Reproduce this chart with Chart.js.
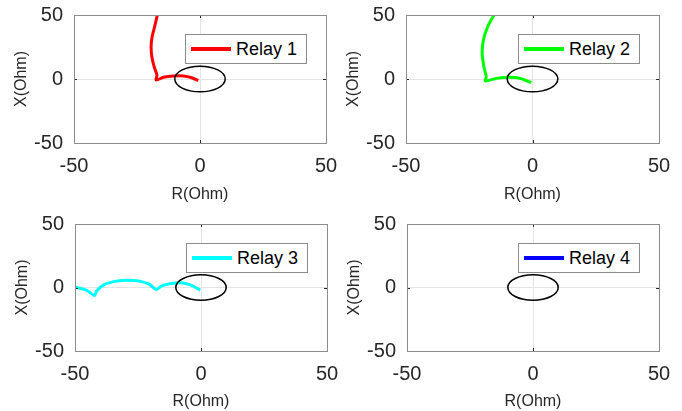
<!DOCTYPE html>
<html>
<head>
<meta charset="utf-8">
<script src="https://cdn.jsdelivr.net/npm/chart.js@4"></script>
<style>
  body { margin: 0; background: #fff; width: 682px; height: 411px; overflow: hidden; position: relative; font-family: "Liberation Sans", Arial, sans-serif; }
  canvas { position: absolute; }
  .legend { position: absolute; background: #fff; border: 1px solid #8c8c8c; box-sizing: border-box; height: 30px; width: 122px; display: flex; align-items: center; padding-left: 5px; font-size: 18px; color: #000; }
  .legend i { display: inline-block; width: 40px; height: 4px; margin-right: 5px; }
</style>
</head>
<body>
<script>
// impedance trajectories (R, X in Ohm)
const relay1R = [-16.7, -18.0, -19.0, -19.4, -19.1, -18.2, -17.1, -17.4, -14.5, -10.5, -6.6, -3.3, -0.7];
const relay1X = [52, 40.9, 33.1, 25.3, 17.4, 9.6, 3.1, -0.8, 1.3, 2.3, 2.3, 1.0, -1.3];

const relay2R = [-14.6, -17.7, -19.4, -19.9, -19.2, -18.3, -18.6, -14.3, -9.1, -4.5, -0.5];
const relay2X = [52, 40.9, 30.5, 20, 9.6, 1.8, -1.5, 0.5, 1.3, 0.3, -2.9];

const relay3R = [-50, -45.5, -42.2, -41.5, -38.2, -33.6, -29, -24.4, -20.4, -17.8, -15.8, -11.9, -7.9, -4, -0.3];
const relay3X = [0.3, -2, -6.3, -2.9, 2.4, 5, 5.8, 5, 2.4, -1.6, 1, 3.1, 3.7, 1.8, -2.1];

const relay4R = [];
const relay4X = [];

const relayNames = ["Relay 1", "Relay 2", "Relay 3", "Relay 4"];
const relayColors = ["#ff0000", "#00ff00", "#00ffff", "#0000ff"];
const relayR = [relay1R, relay2R, relay3R, relay4R];
const relayX = [relay1X, relay2X, relay3X, relay4X];

const axisTicks = [-50, 0, 50];
const zoneCenter = [0, 0];
const zoneRadius = 10;

// where each subplot sits on the page
const panels = [
  { left: 0, top: 0, w: 345, h: 204, axisW: 74, padR: 19, padT: 15, axisH: 61 },
  { left: 332, top: 0, w: 350, h: 204, axisW: 74, padR: 23, padT: 15, axisH: 61 },
  { left: 1, top: 209, w: 344, h: 202, axisW: 74, padR: 18, padT: 15, axisH: 60 },
  { left: 333, top: 209, w: 349, h: 202, axisW: 74, padR: 23, padT: 15, axisH: 60 },
];

Chart.defaults.font.family = '"Liberation Sans", Arial, sans-serif';
Chart.defaults.color = "#262626";

// zone circle + matlab style box with inward ticks
const boxPlugin = {
  id: "box",
  afterDatasetsDraw(chart) {
    const ctx = chart.ctx;
    const xs = chart.scales.x, ys = chart.scales.y;
    const cx = xs.getPixelForValue(zoneCenter[0]);
    const cy = ys.getPixelForValue(zoneCenter[1]);
    const rx = Math.abs(xs.getPixelForValue(zoneCenter[0] + zoneRadius) - cx);
    const ry = Math.abs(ys.getPixelForValue(zoneCenter[1] + zoneRadius) - cy);
    ctx.save();
    ctx.strokeStyle = "#000";
    ctx.lineWidth = 1.5;
    ctx.beginPath();
    ctx.ellipse(cx, cy, rx, ry, 0, 0, Math.PI * 2);
    ctx.stroke();

    const a = chart.chartArea;
    ctx.strokeStyle = "#262626";
    ctx.lineWidth = 1;
    ctx.beginPath();
    for (const t of axisTicks) {
      const px = Math.round(xs.getPixelForValue(t)) + 0.5;
      ctx.moveTo(px, a.bottom); ctx.lineTo(px, a.bottom - 3);
      ctx.moveTo(px, a.top); ctx.lineTo(px, a.top + 3);
      const py = Math.round(ys.getPixelForValue(t)) + 0.5;
      ctx.moveTo(a.left, py); ctx.lineTo(a.left + 3, py);
      ctx.moveTo(a.right, py); ctx.lineTo(a.right - 3, py);
    }
    ctx.stroke();
    ctx.strokeStyle = "#8c8c8c";
    ctx.strokeRect(Math.round(a.left) + 0.5, Math.round(a.top) + 0.5, Math.round(a.right - a.left), Math.round(a.bottom - a.top));
    ctx.restore();
  }
};

// stop chart.js from reserving room for overhanging tick labels
const noOverhang = (s) => {
  s.paddingLeft = 0; s.paddingRight = 0; s.paddingTop = 0; s.paddingBottom = 0;
};

panels.forEach((p, i) => {
  const canvas = document.createElement("canvas");
  canvas.width = p.w;
  canvas.height = p.h;
  canvas.style.left = p.left + "px";
  canvas.style.top = p.top + "px";
  canvas.style.width = p.w + "px";
  canvas.style.height = p.h + "px";
  document.body.appendChild(canvas);

  const pts = relayR[i].map((r, k) => ({ x: r, y: relayX[i][k] }));

  new Chart(canvas, {
    type: "scatter",
    data: {
      datasets: [{
        label: relayNames[i],
        data: pts,
        showLine: true,
        borderColor: relayColors[i],
        backgroundColor: relayColors[i],
        borderWidth: 3,
        pointRadius: 0,
        tension: 0.3,
      }]
    },
    options: {
      responsive: false,
      animation: false,
      layout: { padding: { left: 0, top: p.padT, right: p.padR, bottom: 0 } },
      plugins: { legend: { display: false }, tooltip: { enabled: false } },
      scales: {
        x: {
          min: -50, max: 50,
          afterBuildTicks: (s) => { s.ticks = axisTicks.map(v => ({ value: v })); },
          afterFit: (s) => { s.height = p.axisH; noOverhang(s); },
          grid: { color: "#e3e3e3", drawTicks: false },
          border: { display: false },
          ticks: { padding: 11, font: { size: 20 }, color: "#262626" },
          title: { display: true, text: "R(Ohm)", font: { size: 16 }, padding: { top: 0, bottom: 0 }, color: "#262626" },
        },
        y: {
          min: -50, max: 50,
          afterBuildTicks: (s) => { s.ticks = axisTicks.map(v => ({ value: v })); },
          afterFit: (s) => { s.width = p.axisW; noOverhang(s); },
          grid: { color: "#e3e3e3", drawTicks: false },
          border: { display: false },
          ticks: { padding: 11, font: { size: 20 }, color: "#262626" },
          title: { display: true, text: "X(Ohm)", font: { size: 16 }, padding: { top: 12, bottom: 0 }, color: "#262626" },
        }
      }
    },
    plugins: [boxPlugin]
  });

  // legend box in the upper right of the axes
  const chartRight = p.left + p.w - p.padR;
  const chartTop = p.top + p.padT;
  const lg = document.createElement("div");
  lg.className = "legend";
  lg.style.left = (chartRight - 19 - 122) + "px";
  lg.style.top = (chartTop + 19) + "px";
  const sw = document.createElement("i");
  sw.style.background = relayColors[i];
  lg.appendChild(sw);
  lg.appendChild(document.createTextNode(relayNames[i]));
  document.body.appendChild(lg);
});
</script>
</body>
</html>
